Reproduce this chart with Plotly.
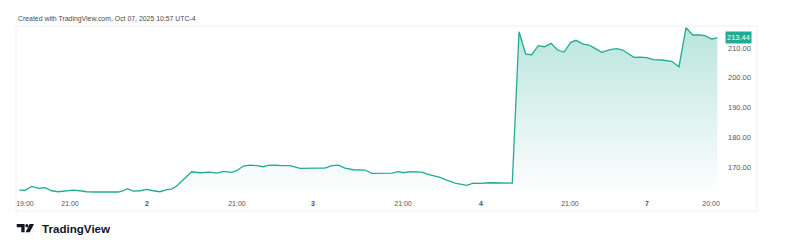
import plotly.graph_objects as go

# bar index (compressed trading timeline) and close price
t = [0, 0.85, 1.85, 2.84, 3.84, 4.84, 5.82, 6.82, 8.06, 9.06, 10.06, 11.3, 12.54, 13.54,
     14.78, 15.52, 16.12, 17.01, 18.01, 19.01, 20.0, 21.0, 22.0, 22.75, 23.49, 24.48,
     25.73, 26.97, 28.46, 29.46, 30.45, 31.7, 32.45, 33.43, 34.43, 35.43, 36.42, 37.16,
     38.16, 39.16, 40.4, 41.9, 43.39, 44.39, 45.63, 46.63, 47.61, 48.61, 49.85, 50.85,
     51.6, 52.6, 53.58, 54.58, 55.58, 56.57, 57.31, 58.31, 60.06, 61.04, 62.79, 63.79,
     65.03, 66.03, 66.78, 67.76, 68.76, 70.25, 71.75, 73.58, 74.58, 75.58, 76.48, 77.46,
     78.36, 79.36, 80.36, 81.3, 82.3, 83.09, 84.18, 85.03, 85.93, 86.93, 88.16, 89.16,
     90.06, 90.9, 91.75, 92.64, 93.64, 94.63, 95.88, 97.37, 98.46, 99.51, 100.51, 101.6,
     102.34, 103.34, 104.18]
price = [162.27, 162.17, 163.51, 162.84, 163.04, 162.03, 161.70, 162.03, 162.27, 162.03,
         161.70, 161.60, 161.70, 161.60, 161.60, 162.03, 162.71, 161.93, 162.03, 162.50,
         162.03, 161.70, 162.37, 162.61, 163.61, 165.87, 168.42, 168.08, 168.32, 167.98,
         168.55, 168.22, 168.76, 170.34, 170.67, 170.44, 170.10, 170.57, 170.67, 170.44,
         170.44, 169.56, 169.76, 169.66, 169.66, 170.44, 170.67, 169.66, 169.09, 168.99,
         168.99, 167.88, 167.88, 168.08, 167.98, 168.42, 168.08, 168.42, 168.32, 167.55,
         166.54, 165.63, 164.62, 164.18, 163.85, 164.62, 164.52, 164.72, 164.72, 164.62,
         215.48, 207.98, 207.75, 210.77, 210.44, 211.58, 209.33, 208.66, 211.92, 212.59,
         211.34, 211.01, 209.90, 208.55, 209.43, 209.76, 209.33, 207.98, 206.87, 206.97,
         206.74, 206.07, 205.97, 205.53, 203.71, 216.82, 214.37, 214.37, 214.13, 213.03,
         213.44]

time_tick_pos = [0.85, 7.57, 19.06, 32.49, 43.84, 57.27, 68.91, 82.19, 93.69, 103.24]
time_tick_text = ["19:00", "21:00", "<b>2</b>", "21:00", "<b>3</b>", "21:00",
                  "<b>4</b>", "21:00", "<b>7</b>", "20:00"]
price_ticks = [170, 180, 190, 200, 210]
last_price = 213.44

W, H = 807, 252
L, R, T, B = 16, 87, 26, 57
PW, PH = W - L - R, H - T - B

def px(x):
    return (x - L) / PW

def py(y):
    return (H - B - y) / PH

LINE = "#22ab94"
FONT = "Liberation Sans, Arial, sans-serif"

fig = go.Figure()
fig.add_trace(go.Scatter(
    x=t, y=price, mode="lines",
    line=dict(color=LINE, width=1.3),
    fill="tozeroy",
    fillgradient=dict(type="vertical",
                      colorscale=[[0, "rgba(34,171,148,0.0)"], [1, "rgba(34,171,148,0.32)"]],
                      start=160.6, stop=217.4),
    hoverinfo="skip", showlegend=False,
))

shapes = [
    # outer frame
    dict(type="rect", xref="paper", yref="paper", x0=px(16), x1=px(757), y0=py(211), y1=py(26),
         line=dict(color="#eceef1", width=1), layer="below"),
    # logo: T part
    dict(type="path", xref="paper", yref="paper",
         path=f"M {px(16.7)},{py(224)} L {px(24.6)},{py(224)} L {px(24.6)},{py(232.3)} "
              f"L {px(21.3)},{py(232.3)} L {px(21.3)},{py(227.3)} L {px(16.7)},{py(227.3)} Z",
         fillcolor="#131722", line=dict(width=0)),
    dict(type="circle", xref="paper", yref="paper", x0=px(25.3), x1=px(28.4), y0=py(227.2), y1=py(224.1),
         fillcolor="#131722", line=dict(width=0)),
    dict(type="path", xref="paper", yref="paper",
         path=f"M {px(29.6)},{py(224)} L {px(34)},{py(224)} L {px(29.8)},{py(232.3)} "
              f"L {px(25.6)},{py(232.3)} Z",
         fillcolor="#131722", line=dict(width=0)),
]

annotations = [
    dict(text="Created with TradingView.com, Oct 07, 2025 10:57 UTC-4", xref="paper", yref="paper",
         x=px(16), y=py(19), xanchor="left", yanchor="middle", showarrow=False,
         font=dict(family=FONT, size=6.9, color="#4a4a4a")),
    dict(text="<b>TradingView</b>", xref="paper", yref="paper",
         x=px(39.5), y=py(228.5), xanchor="left", yanchor="middle", showarrow=False,
         font=dict(family=FONT, size=11.6, color="#131722")),
    dict(text=f"{last_price:.2f}", xref="paper", yref="y", x=1, y=last_price,
         xanchor="left", yanchor="middle", xshift=5, showarrow=False,
         bgcolor=LINE, borderpad=1, font=dict(family=FONT, size=7.5, color="white")),
]

fig.update_layout(
    width=W, height=H,
    margin=dict(l=L, r=R, t=T, b=B),
    paper_bgcolor="white", plot_bgcolor="white",
    shapes=shapes, annotations=annotations,
    xaxis=dict(range=[-0.49, 104.58], tickmode="array", tickvals=time_tick_pos,
               ticktext=time_tick_text, showgrid=False, zeroline=False, showline=False,
               ticks="", ticklabelstandoff=3,
               tickfont=dict(family=FONT, size=7, color="#555")),
    yaxis=dict(range=[160.6, 217.4], side="right", tickmode="array", tickvals=price_ticks,
               ticktext=[f"{v:.2f}" for v in price_ticks], showgrid=False, zeroline=False,
               showline=False, ticks="", ticklabelstandoff=7,
               tickfont=dict(family=FONT, size=7.5, color="#555")),
)

fig.write_html("out.html")
